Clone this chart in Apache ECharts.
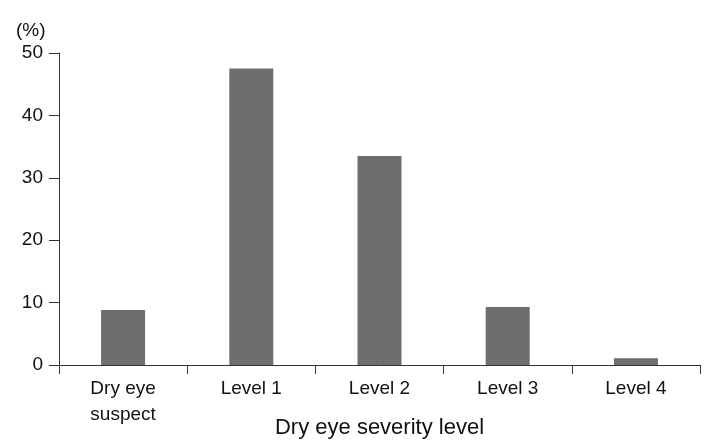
<!DOCTYPE html>
<html><head><meta charset="utf-8">
<script src="https://cdn.jsdelivr.net/npm/echarts@6/dist/echarts.min.js"></script>
<style>html,body{margin:0;padding:0;background:#fff}#c{width:723px;height:446px}</style>
</head><body><div id="c"></div>
<script>
const categories = ['Dry eye\nsuspect', 'Level 1', 'Level 2', 'Level 3', 'Level 4'];
const values = [8.8, 47.5, 33.5, 9.3, 1.1];
const yTicks = [0, 10, 20, 30, 40, 50];

const chart = echarts.init(document.getElementById('c'));
const font = 'Liberation Sans, Arial, Helvetica, sans-serif';
chart.setOption({
  animation: false,
  backgroundColor: '#fff',
  title: {
    text: '(%)', left: 11, top: 16,
    textStyle: {fontFamily: font, fontSize: 19, fontWeight: 'normal', color: '#111'}
  },
  grid: {left: 59, right: 23, top: 53, bottom: 81, containLabel: false, outerBoundsMode: 'none'},
  xAxis: {
    type: 'category', data: categories,
    name: 'Dry eye severity level', nameLocation: 'middle', nameGap: 52,
    nameMoveOverlap: false,
    nameTextStyle: {fontFamily: font, fontSize: 22, color: '#111'},
    axisLine: {lineStyle: {color: '#333', width: 1}},
    axisTick: {show: true, length: 9, alignWithLabel: false, lineStyle: {color: '#333'}},
    axisLabel: {fontFamily: font, fontSize: 19, color: '#111', margin: 11, lineHeight: 26}
  },
  yAxis: {
    type: 'value', min: 0, max: 50, interval: 10,
    axisLine: {show: true, lineStyle: {color: '#333', width: 1}},
    axisTick: {show: true, length: 10, lineStyle: {color: '#333'}},
    splitLine: {show: false},
    axisLabel: {fontFamily: font, fontSize: 19, color: '#111', margin: 16,
      formatter: v => yTicks.includes(v) ? String(v) : ''}
  },
  series: [{
    type: 'bar', data: values, barWidth: 44,
    itemStyle: {color: '#6e6e6e'}
  }]
});
</script></body></html>
